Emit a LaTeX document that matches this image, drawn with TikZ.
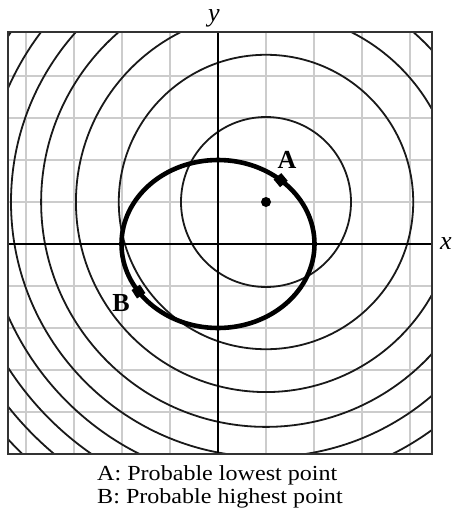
\documentclass[tikz,border=0pt]{standalone}
\usepackage{fontspec}
\setmainfont{Liberation Serif}
\begin{document}
\begin{tikzpicture}[x=1pt,y=-1pt,
  gridline/.style={draw=black!20,line width=1.8pt},
  contour/.style={draw=black!90,line width=1.8pt},
  axisline/.style={draw=black,line width=1.5pt},
  framebox/.style={draw=black!80,line width=2.2pt},
  constraint/.style={draw=black,line width=4.6pt},
  marker/.style={fill=black,minimum size=10pt,inner sep=0pt},
  ptlabel/.style={font=\fontsize{26}{26}\selectfont\bfseries,inner sep=0pt},
  axlabel/.style={font=\fontsize{26}{26}\selectfont\itshape,inner sep=0pt},
  caption/.style={font=\fontsize{21.5}{23}\selectfont,inner sep=0pt,align=left,xscale=1.12}]
\useasboundingbox (0,0) rectangle (473,519);
\fill[white] (0,0) rectangle (473,519);
% grid
\foreach \gx in {26,74,122,170,266,314,362,410} \draw[gridline] (\gx,32) -- (\gx,454);
\foreach \gy in {76,118,160,202,286,328,370,412} \draw[gridline] (8,\gy) -- (432,\gy);
% contours
\begin{scope}
\clip (8,32) rectangle (432,454);
\foreach \k in {1,...,10} \draw[contour] (266,202) circle ({85*sqrt(2*\k-1)});
\end{scope}
% axes
\coordinate (ytop) at (218,32);
\coordinate (ybot) at (218,454);
\coordinate (xl) at (8,244);
\coordinate (xr) at (432,244);
\draw[axisline] (ytop) -- (ybot);
\draw[axisline] (xl) -- (xr);
\draw[framebox] (8,32) rectangle (432,454);
% constraint ellipse
\draw[constraint] (218,244) ellipse [x radius=96.5, y radius=84];
% center dot
\fill (266,202) circle (5pt);
\node[marker,rotate=-50] (mA) at ({218+96.5*cos(49.5)},{244-84*sin(49.5)}) {};
\node[marker,rotate=-57] (mB) at ({218+96.5*cos(214.5)},{244-84*sin(214.5)}) {};
\node[ptlabel] (lA) at (287,160) {A};
\node[ptlabel] (lB) at (121,303) {B};
\node[axlabel,anchor=base] (ly) at (214,22) {y};
\node[axlabel,anchor=base] (lx) at (446,249) {x};
\node[caption,anchor=base west] (c1) at (97,480) {A: Probable lowest point};
\node[caption,anchor=base west] (c2) at (97,503) {B: Probable highest point};
\end{tikzpicture}
\end{document}
